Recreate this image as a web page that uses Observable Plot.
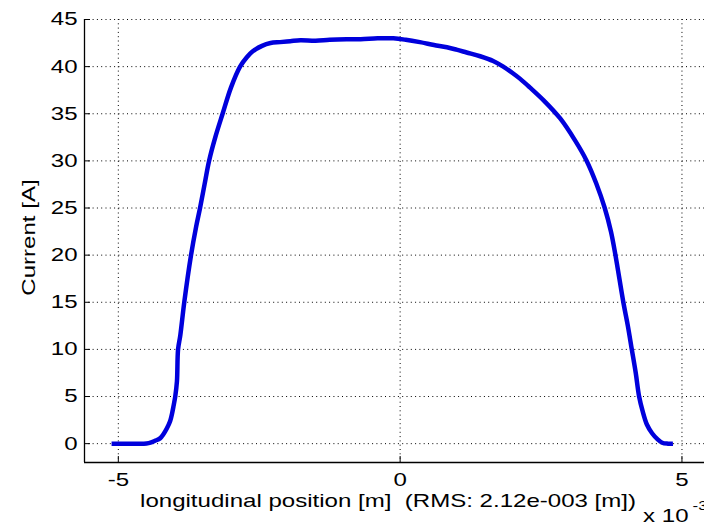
<!DOCTYPE html>
<html>
<head>
<meta charset="utf-8">
<script src="https://cdn.jsdelivr.net/npm/d3@7"></script>
<script src="https://cdn.jsdelivr.net/npm/@observablehq/plot@0.6"></script>
<style>
  html, body { margin: 0; padding: 0; background: #fff; }
</style>
</head>
<body>
<div id="chart"></div>
<script>
// Longitudinal position (units of 1e-3 m)
const position = [-5.12, -4.9, -4.7, -4.5, -4.43, -4.35, -4.26, -4.2, -4.14, -4.08, -4.05, -4.02, -3.99, -3.96, -3.94, -3.9, -3.83, -3.71, -3.62, -3.55, -3.47, -3.39, -3.28, -3.15, -3.0, -2.84, -2.72, -2.62, -2.45, -2.3, -2.13, -1.95, -1.77, -1.5, -1.25, -0.95, -0.7, -0.4, -0.12, 0.1, 0.35, 0.6, 0.83, 1.0, 1.18, 1.42, 1.65, 1.83, 2.0, 2.13, 2.3, 2.55, 2.84, 3.1, 3.31, 3.48, 3.63, 3.74, 3.82, 3.96, 4.04, 4.11, 4.18, 4.24, 4.3, 4.38, 4.47, 4.56, 4.65, 4.75, 4.84];
// Current [A]
const current = [0, 0, 0, 0.02, 0.1, 0.3, 0.56, 1.0, 1.6, 2.4, 3.1, 4.0, 5.0, 6.6, 10, 11.5, 15, 20, 23, 25, 27.5, 30, 32.5, 35, 37.8, 40, 41, 41.6, 42.2, 42.5, 42.6, 42.7, 42.8, 42.75, 42.85, 42.9, 42.9, 43.0, 43.0, 42.85, 42.6, 42.3, 42.05, 41.8, 41.5, 41.1, 40.6, 40.0, 39.3, 38.7, 37.8, 36.4, 34.5, 32.2, 30, 27.6, 25, 22.5, 20, 15, 12.5, 10, 7.5, 5, 3.5, 2, 1.1, 0.5, 0.1, 0, 0];

const xTicks = [-5, 0, 5];
const yTicks = [0, 5, 10, 15, 20, 25, 30, 35, 40, 45];
const xDomain = [-5.6, 5.4];
const yDomain = [-2, 45];
const xLabel = "longitudinal position [m]\u00a0 (RMS: 2.12e-003 [m])";
const yLabel = "Current [A]";
const scaleBase = "x 10";
const scaleExp = "-3";

const data = position.map((x, i) => ({x, y: current[i]}));
const font = "'Liberation Sans', Arial, Helvetica, sans-serif";

const plot = Plot.plot({
  width: 704,
  height: 525,
  marginLeft: 84,
  marginRight: 0,
  marginTop: 19,
  marginBottom: 63,
  style: {fontFamily: font, fontSize: "18.5px", background: "#fff", color: "#000"},
  x: {domain: xDomain, ticks: xTicks},
  y: {domain: yDomain, ticks: yTicks},
  marks: [
    Plot.gridY(yTicks, {stroke: "#000", strokeOpacity: 1, strokeDasharray: "1,3.3"}),
    Plot.gridX(xTicks, {stroke: "#000", strokeOpacity: 1, strokeDasharray: "1,3.3"}),
    Plot.ruleX([xDomain[0]], {stroke: "#000", strokeWidth: 1.3}),
    Plot.ruleY([yDomain[0]], {stroke: "#000", strokeWidth: 1.3}),
    Plot.axisY(yTicks, {tickSize: 0, tickPadding: 7, label: null, tickFormat: d => String(d)}),
    Plot.axisX(xTicks, {tickSize: 0, tickPadding: 10, label: null, tickFormat: d => String(d)}),
    Plot.axisY(yTicks, {tickSize: -6, label: null, tickFormat: () => ""}),
    Plot.axisX(xTicks, {tickSize: -6, label: null, tickFormat: () => ""}),
    Plot.line(data, {x: "x", y: "y", stroke: "#0000dc", strokeWidth: 4.5, strokeLinejoin: "round", strokeLinecap: "butt", curve: "catmull-rom"}),
    Plot.text([xLabel], {frameAnchor: "bottom", lineAnchor: "middle", textAnchor: "middle", dx: -6.5, dy: 38.5, fontSize: 18.5, fill: "#000"}),
    Plot.text([yLabel], {frameAnchor: "left", lineAnchor: "middle", textAnchor: "middle", rotate: -90, dx: -55, dy: -3.5, fontSize: 18.5, fill: "#000"}),
    Plot.text([scaleBase], {frameAnchor: "bottom-right", lineAnchor: "middle", textAnchor: "end", dx: -16, dy: 54, fontSize: 18.5, fill: "#000"}),
    Plot.text([scaleExp], {frameAnchor: "bottom-right", lineAnchor: "middle", textAnchor: "start", dx: -12, dy: 43, fontSize: 13, fill: "#000"})
  ]
});
document.getElementById("chart").appendChild(plot);

// The reference's text glyphs are rendered about 1.3x wider than Arial: stretch along baseline
plot.querySelectorAll("text").forEach(t => {
  if (t.querySelector("tspan")) return;
  const L = t.getComputedTextLength();
  if (L > 0) {
    t.setAttribute("textLength", (L * 1.3).toFixed(2));
    t.setAttribute("lengthAdjust", "spacingAndGlyphs");
  }
});
</script>
</body>
</html>
